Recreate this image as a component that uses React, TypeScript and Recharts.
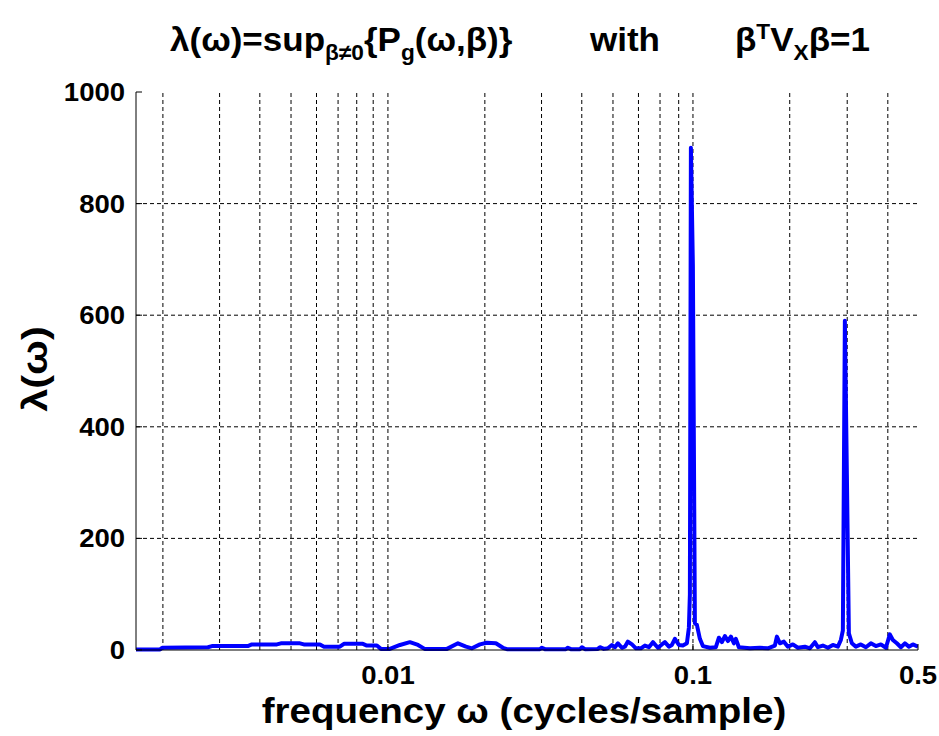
import React from 'react';
import { LineChart, Line, XAxis, YAxis, ReferenceLine } from 'recharts';

// frequency positions (log axis) and λ(ω) values
const freq = [
  0.00165, 0.00196, 0.00199, 0.00276, 0.00284, 0.00367, 0.00378, 0.00452, 0.00465, 0.00533,
  0.00548, 0.00615, 0.00633, 0.00709, 0.0073, 0.00836, 0.0086, 0.00924, 0.00951, 0.01014,
  0.0109, 0.0117, 0.0124, 0.013, 0.01525, 0.0165, 0.01747, 0.01824, 0.01931, 0.0203,
  0.02164, 0.02276, 0.02342, 0.02965, 0.03008, 0.03073, 0.0357, 0.03622, 0.037, 0.03948,
  0.04005, 0.04092, 0.04489, 0.04554, 0.04686, 0.04823, 0.04963, 0.0507, 0.0518, 0.0533,
  0.05445, 0.05563, 0.05727, 0.05891, 0.06105, 0.06282, 0.06466, 0.06653, 0.06895, 0.07095,
  0.07248, 0.07459, 0.07621, 0.07786, 0.08012, 0.08244, 0.08483, 0.08606, 0.08667, 0.0873,
  0.08855, 0.08983, 0.09112, 0.09309, 0.09512, 0.1, 0.10437, 0.10666, 0.10897, 0.11133,
  0.11374, 0.1162, 0.11871, 0.12042, 0.12303, 0.13311, 0.14296, 0.15139, 0.15919, 0.16148,
  0.16498, 0.16976, 0.17468, 0.18105, 0.18765, 0.19725, 0.20444, 0.2119, 0.2165, 0.2244,
  0.23258, 0.24099, 0.24975, 0.25517, 0.25882, 0.26258, 0.26637, 0.27021, 0.27605, 0.28404,
  0.29436, 0.30516, 0.31623, 0.32771, 0.3397, 0.35207, 0.36224, 0.37008, 0.38081, 0.39198,
  0.4033, 0.41495, 0.42697, 0.443,
];
const lambda = [
  1, 1, 4, 5, 7, 7, 10, 10, 12, 12,
  10, 10, 6, 6, 11, 11, 8, 8, 2, 2,
  9, 14, 9, 2, 2, 12, 6, 3, 10, 13,
  12, 4, 1.5, 1.5, 4, 1.5, 1.5, 4, 1.5, 1.5,
  5, 1.5, 2, 5, 2, 3, 9, 5, 12, 4,
  6, 15, 10, 3, 3, 8, 5, 14, 4, 10,
  14, 6, 9, 20, 9, 8, 12, 40, 100, 900,
  688, 48, 45, 20, 7, 4, 5, 22, 14, 25,
  16, 24, 12, 20, 5, 3, 4, 3, 8, 24,
  12, 15, 6, 10, 4, 6, 3, 14, 5, 8,
  4, 9, 6, 18, 35, 590, 315, 30, 12, 6,
  10, 5, 12, 7, 10, 4, 28, 18, 12, 5,
  12, 6, 10, 6,
];

const xDomain = [0.00165, 0.443];
const gridFreq = [
  0.002, 0.003, 0.004, 0.005, 0.006, 0.007, 0.008, 0.009, 0.01,
  0.02, 0.03, 0.04, 0.05, 0.06, 0.07, 0.08, 0.0886, 0.177, 0.267, 0.357,
];
const xTickValues = [0.01, 0.0886, 0.443];
const xTickLabels = ['0.01', '0.1', '0.5'];
const yTicks = [0, 200, 400, 600, 800, 1000];
const yGrid = [200, 400, 600, 800];

const data = freq.map((f, i) => ({ f, v: lambda[i] }));

const FONT = '"Liberation Sans", Arial, sans-serif';
const STRETCH = 1.1;

const XTick = (props: any) => {
  const { x, y, payload } = props;
  const i = xTickValues.indexOf(payload.value);
  return (
    <g transform={`translate(${x},${y}) scale(${STRETCH},1)`}>
      <text x={0} y={0} textAnchor="middle" fontFamily={FONT} fontWeight="bold" fontSize={25} fill="#000">
        {i >= 0 ? xTickLabels[i] : ''}
      </text>
    </g>
  );
};

const YTick = (props: any) => {
  const { x, y, payload } = props;
  return (
    <g transform={`translate(${x},${y}) scale(${STRETCH},1)`}>
      <text x={0} y={0} dy="0.36em" textAnchor="end" fontFamily={FONT} fontWeight="bold" fontSize={25} fill="#000">
        {String(payload.value)}
      </text>
    </g>
  );
};

export default function App() {
  return (
    <div style={{ position: 'absolute', left: 0, top: 0, width: 939, height: 736, background: '#fff' }}>
      <LineChart
        width={939}
        height={736}
        data={data}
        margin={{ top: 92, right: 21, bottom: 0, left: 0 }}
      >
        <XAxis
          dataKey="f"
          type="number"
          scale="log"
          domain={xDomain}
          allowDataOverflow
          ticks={xTickValues}
          interval={0}
          tick={<XTick />}
          tickSize={-6}
          tickMargin={40}
          tickLine={{ stroke: '#000' }}
          axisLine={{ stroke: '#000' }}
          height={86}
        />
        <XAxis
          xAxisId="top"
          orientation="top"
          dataKey="f"
          type="number"
          scale="log"
          domain={xDomain}
          allowDataOverflow
          ticks={gridFreq}
          interval={0}
          tick={false}
          tickSize={-4}
          tickLine={{ stroke: '#000' }}
          axisLine={{ stroke: '#000' }}
          height={0}
        />
        <YAxis
          type="number"
          domain={[0, 1000]}
          ticks={yTicks}
          interval={0}
          tick={<YTick />}
          tickSize={-6}
          tickMargin={17}
          tickLine={{ stroke: '#000' }}
          axisLine={{ stroke: '#000' }}
          width={136}
        />
        <YAxis
          yAxisId="right"
          orientation="right"
          type="number"
          domain={[0, 1000]}
          ticks={yTicks}
          interval={0}
          tick={false}
          tickSize={-6}
          tickLine={{ stroke: '#000' }}
          axisLine={{ stroke: '#000' }}
          width={0}
        />
        {gridFreq.map((g) => (
          <ReferenceLine key={'gx' + g} x={g} stroke="#000" strokeWidth={1} strokeDasharray="4 3" />
        ))}
        {yGrid.map((g) => (
          <ReferenceLine key={'gy' + g} y={g} stroke="#000" strokeWidth={1} strokeDasharray="4 3" />
        ))}
        <Line
          type="linear"
          dataKey="v"
          stroke="#0000ff"
          strokeWidth={4}
          strokeLinejoin="round"
          dot={false}
          activeDot={false}
          isAnimationActive={false}
        />
      </LineChart>
      <svg width={939} height={736} style={{ position: 'absolute', left: 0, top: 0, pointerEvents: 'none' }}>
        <g transform="translate(170,51) scale(1.03,1)" fontFamily={FONT} fontWeight="bold" fill="#000">
          <text x={0} y={0} fontSize={34}>
            <tspan>λ(ω)=sup</tspan>
            <tspan fontSize={22} dy={9}>β≠0</tspan>
            <tspan dy={-9}>{'{P'}</tspan>
            <tspan fontSize={22} dy={9}>g</tspan>
            <tspan dy={-9}>{'(ω,β)}'}</tspan>
          </text>
        </g>
        <g transform="translate(590,51) scale(1.03,1)" fontFamily={FONT} fontWeight="bold" fill="#000">
          <text x={0} y={0} fontSize={34}>with</text>
        </g>
        <g transform="translate(735,51) scale(1.03,1)" fontFamily={FONT} fontWeight="bold" fill="#000">
          <text x={0} y={0} fontSize={34}>
            <tspan>β</tspan>
            <tspan fontSize={22} dy={-12}>T</tspan>
            <tspan dy={12}>V</tspan>
            <tspan fontSize={22} dy={9}>X</tspan>
            <tspan dy={-9}>β=1</tspan>
          </text>
        </g>
        <g transform="translate(34,369) rotate(-90) scale(1.15,1)" fontFamily={FONT} fontWeight="bold" fill="#000">
          <text x={0} y={0} dy="0.35em" textAnchor="middle" fontSize={36}>λ(ω)</text>
        </g>
        <g transform={`translate(524,723) scale(${STRETCH},1)`} fontFamily={FONT} fontWeight="bold" fill="#000">
          <text x={0} y={0} textAnchor="middle" fontSize={35}>frequency ω (cycles/sample)</text>
        </g>
      </svg>
    </div>
  );
}
